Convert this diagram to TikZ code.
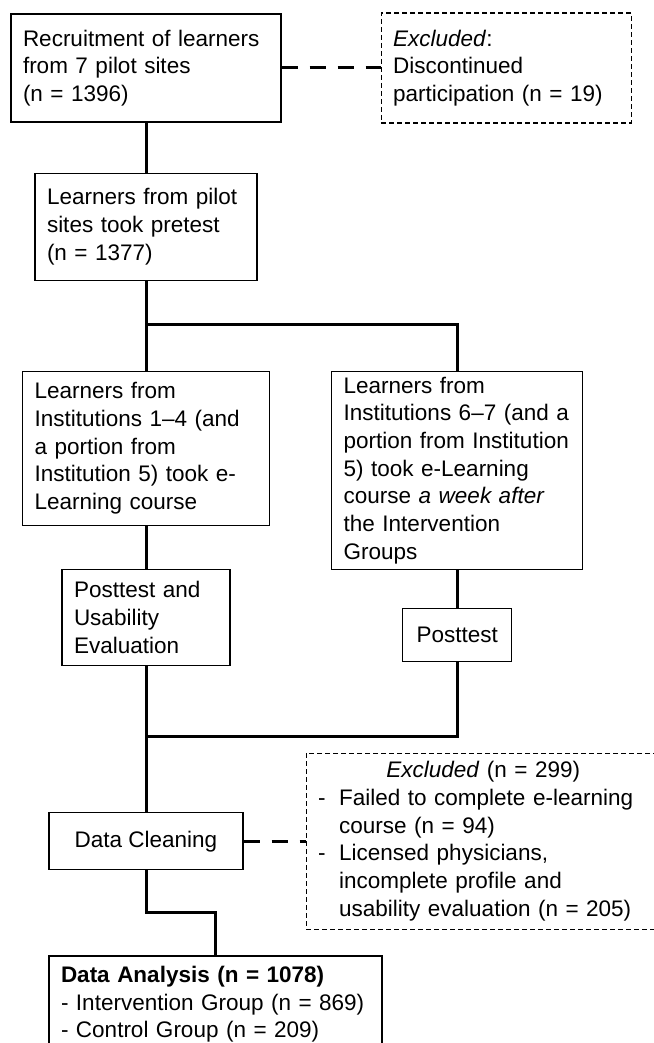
\documentclass[tikz,border=0pt]{standalone}
\usepackage{fontspec}
\setmainfont{Liberation Sans}
\usetikzlibrary{positioning}

\newcommand{\flowdash}[1][10.5pt]{\makebox[#1][l]{-}}
\newcommand{\flowgap}{\hspace*{10.5pt}}

\begin{document}
\begin{tikzpicture}[x=1pt,y=1pt,font=\fontsize{11.25}{13.85}\selectfont,
  box/.style={draw,line width=0.6pt,align=left,inner xsep=6pt,inner ysep=1.5pt},
  exbox/.style={box,line width=0.6pt,dash pattern=on 2.5pt off 1.5pt},
  link/.style={line width=1.5pt},
  exlink/.style={line width=1.5pt,dash pattern=on 8pt off 6pt}]
\useasboundingbox (0,0) rectangle (326.5,-521.5);
\node[box,text width=123pt,minimum height=54pt] (recruit) at (73,-34) {Recruitment of learners\\from 7 pilot sites\\(n = 1396)};
\node[exbox,text width=113pt,minimum height=55pt,right=49.5pt of recruit] (excl1) {\textit{Excluded}:\\Discontinued\\participation (n = 19)};
\node[box,text width=99pt,minimum height=53.5pt,below=25pt of recruit] (pretest) {Learners from pilot\\sites took pretest\\(n = 1377)};
\node[box,text width=111.5pt,minimum height=77pt,below=45pt of pretest] (grpA) {Learners from\\Institutions 1--4 (and\\a portion from\\Institution 5) took e-\\Learning course};
\node[box,text width=113.5pt,minimum height=99pt,right=30.5pt of grpA.north east,anchor=north west] (grpB) {Learners from\\Institutions 6--7 (and a\\portion from Institution\\5) took e-Learning\\course \textit{a week after}\\the Intervention\\Groups};
\node[box,text width=72pt,minimum height=48pt,below=21.5pt of grpA] (postA) {Posttest and\\Usability\\Evaluation};
\node[box,minimum width=54.5pt,minimum height=26.5pt,below=19pt of grpB] (postB) {Posttest};
\node[box,minimum width=97pt,minimum height=28.5pt,below=73pt of postA] (clean) {Data Cleaning};
\node[exbox,text width=168pt,minimum height=88pt,right=31pt of clean] (excl2) {\makebox[165pt][c]{\textit{Excluded} (n = 299)}\\
  \flowdash Failed to complete e-learning\\
  \flowgap course (n = 94)\\
  \flowdash Licensed physicians,\\
  \flowgap incomplete profile and\\
  \flowgap usability evaluation (n = 205)};
\node[box,text width=154.5pt,inner ysep=5pt,below=42.5pt of clean.south west,anchor=north west] (analysis) {\textbf{Data Analysis (n = 1078)}\\
  \flowdash[7.5pt]Intervention Group (n = 869)\\
  \flowdash[7.5pt]Control Group (n = 209)};
\coordinate[below=22pt of pretest.south] (split);
\coordinate[below=35pt of postA.south] (join);
\draw[link] (recruit) -- (pretest);
\draw[link] (pretest) -- (grpA);
\draw[link] (split) -| (grpB.north);
\draw[link] (grpA) -- (postA);
\draw[link] (grpB) -- (postB);
\draw[link] (postA) -- (clean);
\draw[link] (postB.south) |- (join);
\draw[link] (clean.south) -- ++(0,-21pt) -| (analysis.north);
\draw[exlink] (recruit) -- (excl1);
\draw[exlink] (clean) -- (excl2);
\end{tikzpicture}
\end{document}
